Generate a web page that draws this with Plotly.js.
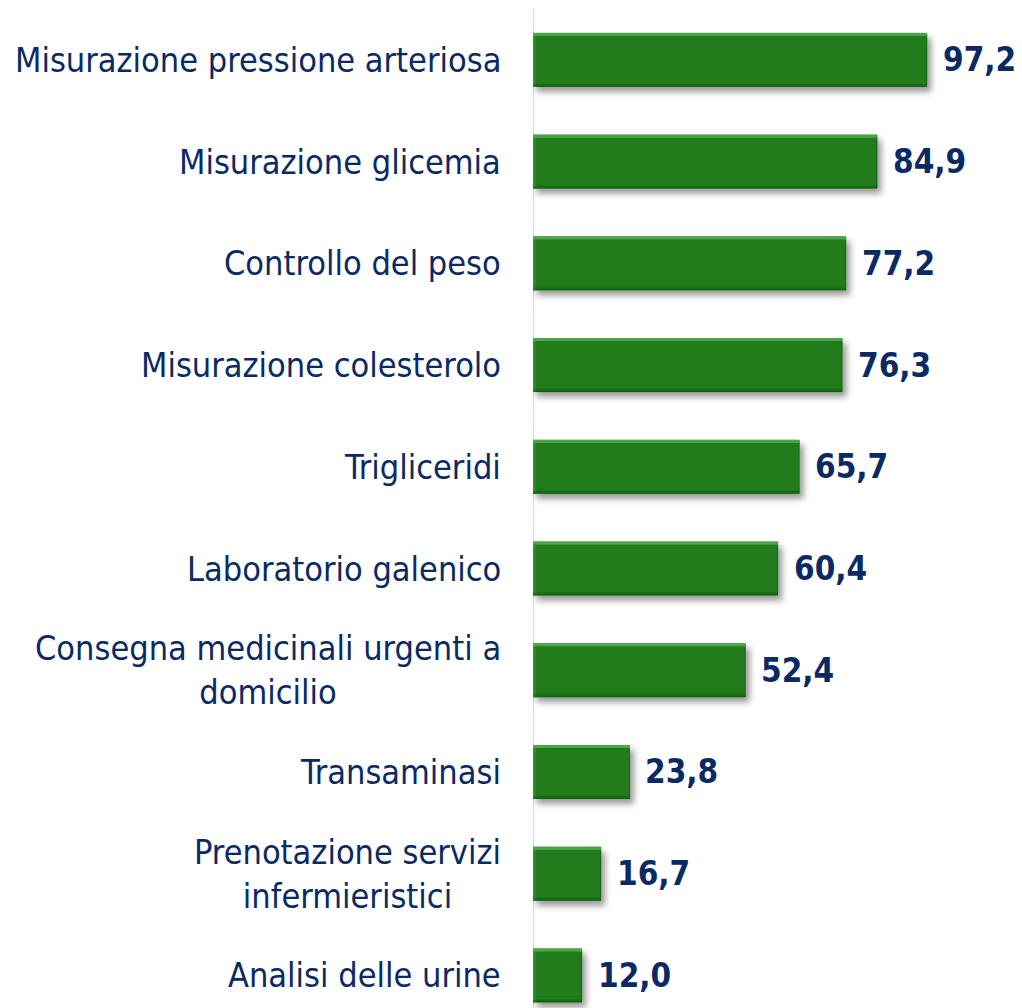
<!DOCTYPE html>
<html>
<head>
<meta charset="utf-8">
<script src="https://cdn.plot.ly/plotly-3.0.1.min.js"></script>
<style>
html,body{margin:0;padding:0;background:#fff;}
#chart{width:1022px;height:1008px;}
.barlayer .point path{filter:url(#bevel);}
</style>
</head>
<body>
<svg width="0" height="0" style="position:absolute">
  <defs>
    <filter id="bevel" x="-10%" y="-20%" width="130%" height="170%">
      <feGaussianBlur in="SourceAlpha" stdDeviation="3" result="blur"/>
      <feOffset in="blur" dx="4" dy="5" result="off"/>
      <feFlood flood-color="#000" flood-opacity="0.4"/>
      <feComposite in2="off" operator="in" result="shadow"/>
      <feOffset in="SourceAlpha" dx="0" dy="3" result="shiftDown"/>
      <feComposite in="SourceAlpha" in2="shiftDown" operator="out" result="topEdge"/>
      <feFlood flood-color="#55b352" flood-opacity="0.75"/>
      <feComposite in2="topEdge" operator="in" result="topLight"/>
      <feOffset in="SourceAlpha" dx="3" dy="0" result="shiftRight"/>
      <feComposite in="SourceAlpha" in2="shiftRight" operator="out" result="leftEdge"/>
      <feFlood flood-color="#3f9a3c" flood-opacity="0.6"/>
      <feComposite in2="leftEdge" operator="in" result="leftLight"/>
      <feOffset in="SourceAlpha" dx="0" dy="-3" result="shiftUp"/>
      <feComposite in="SourceAlpha" in2="shiftUp" operator="out" result="botEdge"/>
      <feFlood flood-color="#18600f" flood-opacity="0.6"/>
      <feComposite in2="botEdge" operator="in" result="botDark"/>
      <feMerge>
        <feMergeNode in="shadow"/>
        <feMergeNode in="SourceGraphic"/>
        <feMergeNode in="leftLight"/>
        <feMergeNode in="topLight"/>
        <feMergeNode in="botDark"/>
      </feMerge>
    </filter>
  </defs>
</svg>
<div id="chart"></div>
<script>
const categories = [
  "Misurazione pressione arteriosa",
  "Misurazione glicemia",
  "Controllo del peso",
  "Misurazione colesterolo",
  "Trigliceridi",
  "Laboratorio galenico",
  "Consegna medicinali urgenti a<br>domicilio",
  "Transaminasi",
  "Prenotazione servizi<br>infermieristici",
  "Analisi delle urine"
];
const values = [97.2, 84.9, 77.2, 76.3, 65.7, 60.4, 52.4, 23.8, 16.7, 12.0];

const navy = "#0b2a63";
const labelFont = {family: "DejaVu Sans Condensed, DejaVu Sans, sans-serif", size: 34, color: navy};
const valueFont = {family: "DejaVu Sans Condensed, DejaVu Sans, sans-serif", size: 33, color: navy, weight: "bold"};

const fmt = v => v.toFixed(1).replace(".", ",");

const trace = {
  type: "bar",
  orientation: "h",
  x: values,
  y: categories.map((c, i) => i),
  width: 0.52,
  marker: {
    color: "#217c1e",
    line: {color: "#185e16", width: 1}
  },
  hoverinfo: "none"
};

const annotations = [];
categories.forEach((c, i) => {
  annotations.push({
    x: 0, y: i, xref: "x", yref: "y",
    text: c, showarrow: false,
    xanchor: "right", yanchor: "middle", align: "center",
    xshift: -30, font: labelFont
  });
  annotations.push({
    x: values[i], y: i, xref: "x", yref: "y",
    text: "<b>" + fmt(values[i]) + "</b>", showarrow: false,
    xanchor: "left", yanchor: "middle",
    xshift: 14, font: valueFont
  });
});

const layout = {
  width: 1022, height: 1008,
  margin: {l: 533, r: 3, t: 8, b: 0},
  paper_bgcolor: "#ffffff",
  plot_bgcolor: "#ffffff",
  showlegend: false,
  xaxis: {
    range: [0, 120],
    showgrid: false, showticklabels: false, ticks: "",
    zeroline: true, zerolinecolor: "#d9d9d9", zerolinewidth: 1,
    showline: false
  },
  yaxis: {
    range: [9.32, -0.51],
    showgrid: false, showticklabels: false, ticks: "",
    zeroline: false, showline: false
  },
  annotations: annotations
};

Plotly.newPlot("chart", [trace], layout, {displayModeBar: false, staticPlot: true});
</script>
</body>
</html>
